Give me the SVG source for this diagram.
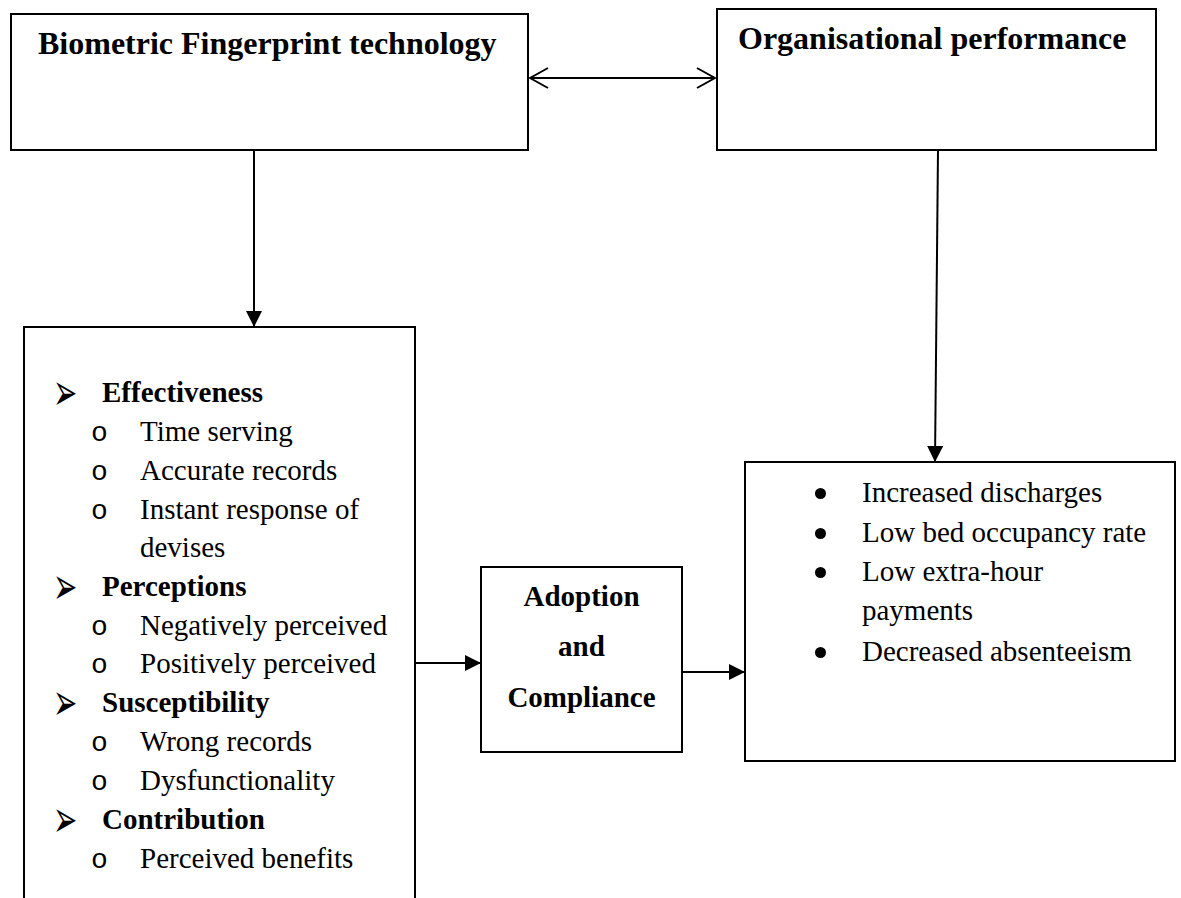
<svg xmlns="http://www.w3.org/2000/svg" width="1181" height="898" viewBox="0 0 1181 898">
  <defs>
    <style>
      .box { fill: #ffffff; stroke: #000000; stroke-width: 2; }
      .link { fill: none; stroke: #000000; stroke-width: 2; }
      .t { font-family: "Liberation Serif", "Times New Roman", serif; font-size: 29px; fill: #000000; }
      .b { font-weight: bold; }
      .title { font-family: "Liberation Serif", "Times New Roman", serif; font-size: 32px; font-weight: bold; fill: #000000; }
      .arrowbullet { font-family: "DejaVu Sans", sans-serif; font-size: 29px; fill: #000000; }
      .circ { font-family: "Liberation Mono", "Courier New", monospace; font-size: 28px; fill: #000000; }
      .dot { fill: #000000; }
    </style>
    <marker id="solid" viewBox="0 0 16 16" refX="16" refY="8" markerWidth="16" markerHeight="16" markerUnits="userSpaceOnUse" orient="auto">
      <path d="M0,0 L16,8 L0,16 Z" fill="#000000"/>
    </marker>
    <marker id="open" viewBox="0 0 20 22" refX="19" refY="11" markerWidth="20" markerHeight="22" markerUnits="userSpaceOnUse" orient="auto-start-reverse">
      <path d="M1,1 L19,11 L1,21" fill="none" stroke="#000000" stroke-width="2"/>
    </marker>
  </defs>

  <rect width="1181" height="898" fill="#ffffff"/>

  <!-- connectors -->
  <g id="connectors">
    <line class="link" x1="530" y1="78" x2="715" y2="78" marker-start="url(#open)" marker-end="url(#open)"/>
    <line class="link" x1="254" y1="150" x2="254" y2="327" marker-end="url(#solid)"/>
    <line class="link" x1="938" y1="150" x2="935" y2="462" marker-end="url(#solid)"/>
    <line class="link" x1="415" y1="663" x2="481" y2="663" marker-end="url(#solid)"/>
    <line class="link" x1="682" y1="672" x2="745" y2="672" marker-end="url(#solid)"/>
  </g>

  <!-- top-left node -->
  <g id="node-biometric">
    <rect class="box" x="11" y="14" width="517" height="136"/>
    <text class="title" x="38" y="54">Biometric Fingerprint technology</text>
  </g>

  <!-- top-right node -->
  <g id="node-performance">
    <rect class="box" x="717" y="9" width="439" height="141"/>
    <text class="title" x="738" y="49">Organisational performance</text>
  </g>

  <!-- left list node (runs past the lower edge) -->
  <g id="node-factors">
    <rect class="box" x="24" y="327" width="391" height="600"/>
    <text class="arrowbullet" transform="translate(53,410) scale(1,1.8)">➢</text>
    <text class="t b" x="102" y="402">Effectiveness</text>
    <text class="circ" x="91" y="441">o</text>
    <text class="t" x="140" y="441">Time serving</text>
    <text class="circ" x="91" y="480">o</text>
    <text class="t" x="140" y="480">Accurate records</text>
    <text class="circ" x="91" y="519">o</text>
    <text class="t" x="140" y="519">Instant response of</text>
    <text class="t" x="140" y="557">devises</text>
    <text class="arrowbullet" transform="translate(53,604) scale(1,1.8)">➢</text>
    <text class="t b" x="102" y="596">Perceptions</text>
    <text class="circ" x="91" y="635">o</text>
    <text class="t" x="140" y="635">Negatively perceived</text>
    <text class="circ" x="91" y="673">o</text>
    <text class="t" x="140" y="673">Positively perceived</text>
    <text class="arrowbullet" transform="translate(53,720) scale(1,1.8)">➢</text>
    <text class="t b" x="102" y="712">Susceptibility</text>
    <text class="circ" x="91" y="751">o</text>
    <text class="t" x="140" y="751">Wrong records</text>
    <text class="circ" x="91" y="790">o</text>
    <text class="t" x="140" y="790">Dysfunctionality</text>
    <text class="arrowbullet" transform="translate(53,837) scale(1,1.8)">➢</text>
    <text class="t b" x="102" y="829">Contribution</text>
    <text class="circ" x="91" y="868">o</text>
    <text class="t" x="140" y="868">Perceived benefits</text>
  </g>

  <!-- middle node -->
  <g id="node-adoption">
    <rect class="box" x="481" y="567" width="201" height="185"/>
    <text class="t b" x="581.5" y="606" text-anchor="middle">Adoption</text>
    <text class="t b" x="581.5" y="656" text-anchor="middle">and</text>
    <text class="t b" x="581.5" y="707" text-anchor="middle">Compliance</text>
  </g>

  <!-- right outcomes node -->
  <g id="node-outcomes">
    <rect class="box" x="745" y="462" width="430" height="299"/>
    <circle class="dot" cx="820.5" cy="493.5" r="5.5"/>
    <text class="t" x="862" y="502">Increased discharges</text>
    <circle class="dot" cx="820.5" cy="533.5" r="5.5"/>
    <text class="t" x="862" y="542">Low bed occupancy rate</text>
    <circle class="dot" cx="820.5" cy="572.5" r="5.5"/>
    <text class="t" x="862" y="581">Low extra-hour</text>
    <text class="t" x="862" y="620">payments</text>
    <circle class="dot" cx="820.5" cy="652.5" r="5.5"/>
    <text class="t" x="862" y="661">Decreased absenteeism</text>
  </g>
</svg>
